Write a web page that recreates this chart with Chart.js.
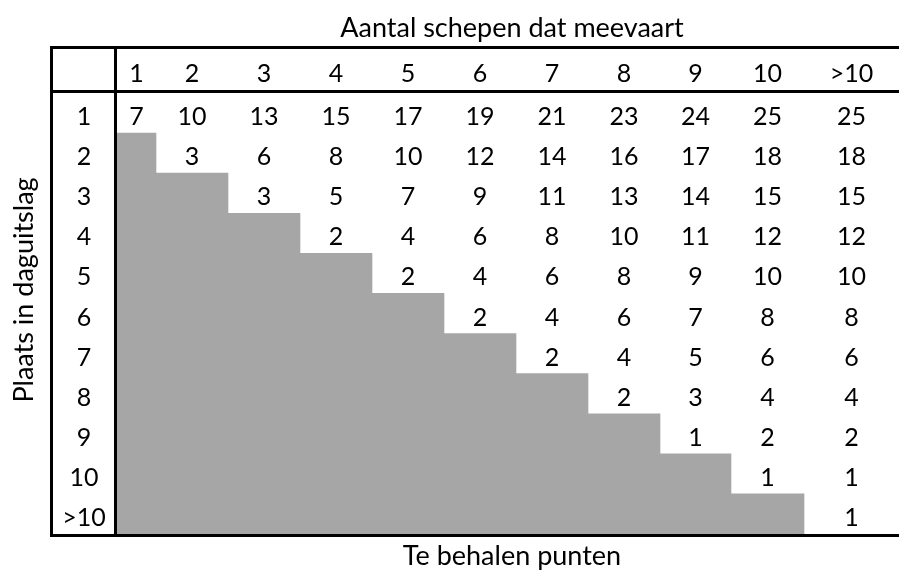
<!DOCTYPE html>
<html>
<head>
<meta charset="utf-8">
<script src="https://cdn.jsdelivr.net/npm/chart.js@4/dist/chart.umd.min.js"></script>
<style>
  html, body { margin: 0; padding: 0; background: #fff; }
  #wrap { width: 899px; height: 572px; }
</style>
</head>
<body>
<div id="wrap"><canvas id="c" width="899" height="572"></canvas></div>
<script>
// column headers (aantal schepen) and row headers (plaats)
const colLabels = ['1', '2', '3', '4', '5', '6', '7', '8', '9', '10', '>10'];
const rowLabels = ['1', '2', '3', '4', '5', '6', '7', '8', '9', '10', '>10'];

// points per row, null = not possible (grey cell)
const row1  = [7, 10, 13, 15, 17, 19, 21, 23, 24, 25, 25];
const row2  = [null, 3, 6, 8, 10, 12, 14, 16, 17, 18, 18];
const row3  = [null, null, 3, 5, 7, 9, 11, 13, 14, 15, 15];
const row4  = [null, null, null, 2, 4, 6, 8, 10, 11, 12, 12];
const row5  = [null, null, null, null, 2, 4, 6, 8, 9, 10, 10];
const row6  = [null, null, null, null, null, 2, 4, 6, 7, 8, 8];
const row7  = [null, null, null, null, null, null, 2, 4, 5, 6, 6];
const row8  = [null, null, null, null, null, null, null, 2, 3, 4, 4];
const row9  = [null, null, null, null, null, null, null, null, 1, 2, 2];
const row10 = [null, null, null, null, null, null, null, null, null, 1, 1];
const row11 = [null, null, null, null, null, null, null, null, null, null, 1];
const rows = [row1, row2, row3, row4, row5, row6, row7, row8, row9, row10, row11];

const titleTop = 'Aantal schepen dat meevaart';
const titleBottom = 'Te behalen punten';
const titleLeft = 'Plaats in daguitslag';

// layout: relative column widths on the x scale
const colWidths = [39, 72, 72, 72, 72, 72, 72, 72, 71, 73, 95];
const edges = [0];
colWidths.forEach(w => edges.push(edges[edges.length - 1] + w));
const centers = colWidths.map((w, i) => edges[i] + w / 2);

const FONT = '25px Lato';
const TITLE_FONT = '27px Lato';
const GREY = '#a6a6a6';

// grey block per row: floating bar over the empty cells
const greyData = rows.map(r => {
  const n = r.filter(v => v === null).length;
  return n ? [0, edges[n]] : null;
});

const tablePlugin = {
  id: 'table',
  afterDatasetsDraw(chart) {
    const ctx = chart.ctx;
    const xs = chart.scales.x;
    const ys = chart.scales.y;
    const area = chart.chartArea;
    const W = chart.width;
    ctx.save();
    ctx.fillStyle = '#000';
    ctx.font = FONT;
    ctx.textAlign = 'center';
    ctx.textBaseline = 'alphabetic';

    // cell values
    rows.forEach((r, i) => {
      const y = ys.getPixelForValue(i) + 12;
      r.forEach((v, j) => {
        if (v === null) return;
        ctx.fillText(String(v), xs.getPixelForValue(centers[j]), y);
      });
      // row header
      ctx.fillText(rowLabels[i], 84, y);
    });

    // column headers
    colLabels.forEach((l, j) => {
      ctx.fillText(l, xs.getPixelForValue(centers[j]), area.top - 11);
    });

    // titles
    ctx.font = TITLE_FONT;
    const midX = (area.left + area.right) / 2 + 4;
    ctx.fillText(titleTop, midX, 37);
    ctx.fillText(titleBottom, midX, 565);
    ctx.save();
    ctx.translate(33, 290);
    ctx.rotate(-Math.PI / 2);
    ctx.fillText(titleLeft, 0, 0);
    ctx.restore();

    // table lines
    ctx.strokeStyle = '#000';
    ctx.lineWidth = 3;
    const top = 47.5, left = 51.5;
    const bottom = area.bottom + 1.5;
    ctx.beginPath();
    ctx.moveTo(left - 1.5, top); ctx.lineTo(W, top);
    ctx.moveTo(left - 1.5, area.top - 1.5); ctx.lineTo(W, area.top - 1.5);
    ctx.moveTo(left - 1.5, bottom); ctx.lineTo(W, bottom);
    ctx.moveTo(left, top - 1.5); ctx.lineTo(left, bottom + 1.5);
    ctx.moveTo(area.left - 1.5, top - 1.5); ctx.lineTo(area.left - 1.5, bottom + 1.5);
    ctx.stroke();
    ctx.restore();
  }
};

new Chart(document.getElementById('c'), {
  type: 'bar',
  data: {
    labels: rowLabels,
    datasets: [{
      data: greyData,
      backgroundColor: GREY,
      borderWidth: 0,
      barPercentage: 1,
      categoryPercentage: 1,
      borderSkipped: false
    }]
  },
  options: {
    indexAxis: 'y',
    responsive: false,
    animation: false,
    layout: { padding: { left: 117, right: 0, top: 93, bottom: 38 } },
    plugins: { legend: { display: false }, tooltip: { enabled: false } },
    scales: {
      x: { type: 'linear', display: false, min: 0, max: edges[edges.length - 1] },
      y: { type: 'category', display: false, offset: true }
    }
  },
  plugins: [tablePlugin]
});
</script>
</body>
</html>
